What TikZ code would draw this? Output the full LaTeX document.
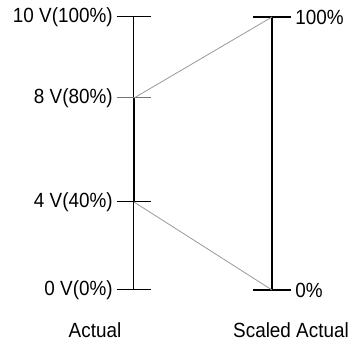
\documentclass[tikz,border=0pt]{standalone}
\usepackage{fontspec}
\setmainfont[FakeStretch=0.92]{Liberation Sans}
\usetikzlibrary{positioning}

\begin{document}
\begin{tikzpicture}[x=0.75pt,y=-0.75pt,
  font=\fontsize{15.4}{18}\selectfont,
  axisthin/.style={black, line width=0.75pt},
  axisthick/.style={black, line width=1.6pt},
  maplink/.style={black!40, line width=0.6pt},
  vlabel/.style={anchor=east, inner sep=0pt},
  plabel/.style={anchor=west, inner sep=0pt}]
\useasboundingbox (0,0) rectangle (351,346);
% actual scale
\coordinate (a100) at (134,17);
\coordinate (a80) at (134,98);
\coordinate (a40) at (134,202);
\coordinate (a0) at (134,290);
% scaled scale
\coordinate (s100) at (272,17);
\coordinate (s0) at (272,290);
\draw[axisthin] (a100) -- (a80);
\draw[axisthick] (a80) -- (a40);
\draw[axisthin] (a40) -- (a0);
\draw[axisthin] ([xshift=-13]a100) -- ([xshift=13]a100);
\draw[black!55, line width=0.75pt] ([xshift=-13]a80) -- ([xshift=13]a80);
\draw[axisthin] ([xshift=-13]a40) -- ([xshift=13]a40);
\draw[axisthin] ([xshift=-13]a0) -- ([xshift=13]a0);
\draw[axisthick] (s100) -- (s0);
\draw[axisthick] ([xshift=-14]s100) -- ([xshift=14]s100);
\draw[axisthick] ([xshift=-14]s0) -- ([xshift=14]s0);
\draw[maplink] (a80) -- (s100);
\draw[maplink] (a40) -- (s0);
\node[vlabel] (l100) at (113,17) {10 V(100\%)};
\node[vlabel] (l80) at (113,98) {8 V(80\%)};
\node[vlabel] (l40) at (113,202) {4 V(40\%)};
\node[vlabel] (l0) at (113,290) {0 V(0\%)};
\node[plabel] (r100) at (295,17) {100\%};
\node[plabel] (r0) at (295,290) {0\%};
\node (actual) at (95,330) {Actual};
\node (scaled) at (291,330) {Scaled Actual};
\end{tikzpicture}
\end{document}
